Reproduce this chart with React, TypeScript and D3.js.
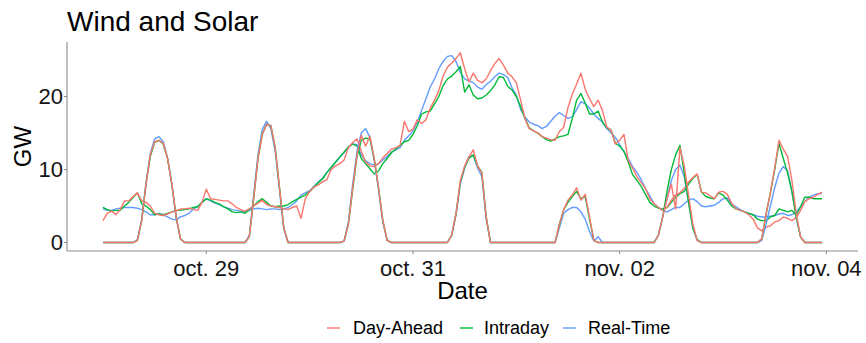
import React from "react";
import * as d3 from "d3";

const START_UTC = Date.UTC(2018, 9, 28, 0);
const seriesNames = ["Day-Ahead", "Intraday", "Real-Time"];
const seriesColors = ["#F8766D", "#00BA38", "#619CFF"];

const windDayAhead = [
  3.0,4.0,4.3,3.8,4.5,5.7,5.7,6.3,6.8,5.7,5.5,5.0,
  4.0,3.8,3.7,3.9,4.2,4.3,4.6,4.6,4.7,4.5,4.4,5.5,7.3,
  6.0,5.9,5.8,5.7,5.7,5.3,4.8,4.5,4.3,4.6,5.0,5.4,
  5.8,5.2,5.0,4.9,4.8,4.6,4.5,4.8,5.0,3.3,6.0,7.0,
  7.6,7.9,8.3,8.6,10.0,10.5,10.8,11.3,13.0,13.7,14.2,12.5,
  11.0,10.5,10.4,10.8,11.6,12.2,12.8,13.0,13.3,16.6,15.2,15.5,16.8,
  16.3,16.8,18.4,19.5,20.8,22.8,24.0,24.6,25.2,26.0,23.8,22.0,
  23.2,22.2,21.9,22.4,23.5,24.5,25.2,24.3,23.2,22.7,21.9,19.5,
  17.0,15.6,15.3,15.0,14.5,14.3,14.1,14.0,15.2,15.8,18.5,20.3,21.7,
  23.2,21.0,19.7,18.6,19.5,18.1,15.8,15.4,13.5,14.0,14.8,11.2,
  10.2,9.0,8.2,7.4,6.0,5.3,4.8,4.4,4.8,5.8,6.5,6.8,
  7.4,8.3,8.9,9.4,6.9,6.8,6.4,6.0,6.9,7.0,6.6,5.4,4.6,
  4.4,4.2,3.8,3.2,2.0,1.6,2.1,2.3,2.8,3.0,3.5,3.3,
  3.0,3.4,4.4,5.6,6.0,6.2,6.6,6.9,
];

const windIntraday = [
  4.8,4.5,4.3,4.4,4.4,5.0,5.5,6.2,6.8,5.3,5.0,4.5,
  3.8,3.9,3.8,4.0,4.2,4.4,4.4,4.5,4.6,4.8,4.9,5.5,6.0,
  5.8,5.5,5.3,4.9,4.6,4.2,4.1,4.2,4.0,4.5,5.0,5.6,
  6.0,5.5,5.0,4.9,5.0,5.0,5.2,5.6,5.9,6.2,6.5,7.0,
  7.6,8.2,8.7,9.6,10.3,11.0,11.7,12.4,13.1,13.5,13.2,11.5,
  10.8,10.1,9.4,9.8,10.8,11.5,12.3,12.8,13.3,13.8,14.0,14.8,16.0,
  17.6,17.9,18.0,19.0,20.0,21.5,22.4,22.8,23.4,24.1,20.6,21.6,
  20.2,19.7,19.8,20.2,20.8,21.6,22.7,22.6,21.4,20.9,20.0,18.6,
  17.0,15.7,15.3,15.0,14.5,14.1,13.9,14.2,14.5,14.6,14.8,17.0,19.5,
  20.4,19.1,17.6,17.6,18.0,16.5,15.7,15.4,13.6,13.2,12.5,11.0,
  9.3,8.5,7.7,6.6,5.5,5.0,4.7,4.6,4.8,5.5,6.2,6.7,
  7.0,8.0,8.8,9.3,6.9,6.3,6.1,6.0,6.8,6.5,5.8,5.0,4.6,
  4.4,4.2,4.0,3.8,3.2,3.0,3.0,3.5,3.7,4.6,4.4,4.2,
  4.4,3.7,4.9,6.2,6.2,6.0,6.0,6.0,
];

const windRealTime = [
  4.6,4.4,4.4,4.6,4.7,4.8,4.8,4.8,4.7,4.5,4.2,3.8,
  3.8,4.0,3.8,3.5,3.2,3.1,3.5,3.7,4.0,4.6,4.9,5.5,6.0,
  5.7,5.4,5.2,4.9,4.7,4.5,4.4,4.3,4.2,4.4,4.6,4.7,
  4.6,4.5,4.6,4.6,4.5,4.6,4.8,5.2,5.7,6.5,6.8,7.1,
  7.7,8.3,8.8,9.6,10.2,11.0,11.7,12.3,13.1,13.5,13.4,12.0,
  11.2,10.8,10.6,10.8,11.3,11.8,12.4,12.7,13.0,14.0,14.6,15.3,16.5,
  18.1,19.7,21.3,22.4,23.8,24.8,25.5,25.6,24.8,23.3,22.4,22.1,
  21.9,21.3,21.0,21.6,22.1,22.7,23.2,23.0,22.6,21.2,20.2,18.2,
  17.2,16.5,16.2,16.0,15.6,15.9,16.6,17.3,17.8,17.4,17.0,17.2,18.2,
  19.3,19.0,18.4,17.6,17.0,16.5,15.6,15.0,14.4,13.4,12.4,11.5,
  10.4,9.6,8.6,7.4,6.4,5.3,4.8,4.4,4.2,4.5,4.8,4.8,
  5.3,5.8,6.0,5.6,5.0,4.9,5.0,5.1,5.5,6.0,6.1,5.3,4.9,
  4.5,4.2,4.0,3.8,3.6,3.5,3.5,3.6,3.7,3.9,4.0,3.7,
  3.8,4.2,4.9,5.6,6.2,6.5,6.7,6.7,
];

const solarDayAhead = [
  0,0,0,0,0,0,0,0,0.3,3.0,8.0,12.0,
  13.8,14.0,13.6,11.5,8.0,3.5,0.5,0,0,0,0,0,0,
  0,0,0,0,0,0,0,0,0,0.8,6.0,11.5,
  14.8,16.2,16.0,13.0,7.5,2.0,0,0,0,0,0,0,
  0,0,0,0,0,0,0,0.2,2.5,7.5,12.0,14.7,
  13.2,14.6,11.5,7.5,3.0,0.3,0,0,0,0,0,0,0,
  0,0,0,0,0,0,0,1.0,4.0,8.5,10.5,11.7,
  12.7,10.5,9.5,3.5,0,0,0,0,0,0,0,0,
  0,0,0,0,0,0,0,0,2.5,4.5,5.8,6.5,7.5,
  5.8,6.6,3.5,0.3,0,0,0,0,0,0,0,0,
  0,0,0,0,0,0,1.0,3.5,6.0,8.0,4.6,13.0,
  10.5,6.5,2.5,0.3,0,0,0,0,0,0,0,0,0,
  0,0,0,0,0,0.5,3.9,6.8,10.2,14.0,12.8,11.8,
  8.5,4.0,0.8,0,0,0,0,0,
];

const solarIntraday = [
  0,0,0,0,0,0,0,0,0.3,3.0,8.0,11.8,
  13.7,14.0,13.5,11.5,8.0,3.5,0.5,0,0,0,0,0,0,
  0,0,0,0,0,0,0,0,0,0.8,6.0,11.5,
  14.8,16.2,16.0,13.0,7.5,2.0,0,0,0,0,0,0,
  0,0,0,0,0,0,0,0.2,2.5,7.3,11.8,14.0,
  14.3,14.2,11.5,7.5,3.0,0.3,0,0,0,0,0,0,0,
  0,0,0,0,0,0,0,1.0,4.0,8.3,10.3,11.5,
  12.0,10.5,9.6,3.5,0,0,0,0,0,0,0,0,
  0,0,0,0,0,0,0,0,2.5,4.5,5.5,6.3,7.0,
  6.0,6.3,3.2,0.3,0,0,0,0,0,0,0,0,
  0,0,0,0,0,0,1.0,3.5,7.0,10.0,12.0,13.3,
  9.5,5.5,2.0,0.4,0,0,0,0,0,0,0,0,0,
  0,0,0,0,0,0.5,3.9,6.8,10.0,13.6,11.5,9.5,
  7.0,3.5,0.8,0,0,0,0,0,
];

const solarRealTime = [
  0,0,0,0,0,0,0,0,0.4,3.2,8.2,12.2,
  14.2,14.5,13.8,11.6,8.0,3.4,0.5,0,0,0,0,0,0,
  0,0,0,0,0,0,0,0,0,1.0,6.5,12.0,
  15.5,16.6,15.6,12.5,7.2,1.8,0,0,0,0,0,0,
  0,0,0,0,0,0,0,0.2,2.8,8.0,12.5,15.0,
  15.6,14.4,11.2,7.2,2.8,0.3,0,0,0,0,0,0,0,
  0,0,0,0,0,0,0,1.0,3.8,8.0,10.2,11.8,
  11.9,10.2,9.0,3.2,0,0,0,0,0,0,0,0,
  0,0,0,0,0,0,0,0,2.0,4.0,4.5,4.8,4.8,
  4.2,3.2,1.5,0.2,0.8,0,0,0,0,0,0,0,
  0,0,0,0,0,0,1.0,3.5,6.0,8.5,10.0,10.6,
  9.0,5.5,2.0,0.3,0,0,0,0,0,0,0,0,0,
  0,0,0,0,0,0.3,2.5,5.0,7.5,9.5,10.4,9.8,
  7.0,3.5,0.8,0,0,0,0,0,
];

const tickDates = [
  Date.UTC(2018, 9, 29),
  Date.UTC(2018, 9, 31),
  Date.UTC(2018, 10, 2),
  Date.UTC(2018, 10, 4),
];
const tickLabels = ["oct. 29", "oct. 31", "nov. 02", "nov. 04"];
const yTicks = [0, 10, 20];

const W = 866;
const H = 343;
const FONT = "'Liberation Sans', Arial, Helvetica, sans-serif";

export default function App() {
  const times = windDayAhead.map((_, i) => new Date(START_UTC + i * 3600 * 1000));
  const t0 = +times[0];
  const t1 = +times[times.length - 1];
  const pad = (t1 - t0) * 0.05;

  const left = 67, right = 858, top = 42, bottom = 251;
  const x = d3.scaleUtc().domain([new Date(t0 - pad), new Date(t1 + pad)]).range([left, right]);
  const y = d3.scaleLinear().domain([-1.164, 27.466]).range([bottom, top]);

  const line = d3
    .line<number>()
    .x((_, i) => x(times[i]))
    .y((d) => y(d));

  const wind = [windDayAhead, windIntraday, windRealTime];
  const solar = [solarDayAhead, solarIntraday, solarRealTime];
  const drawOrder = [2, 1, 0];

  const axisColor = "#8a8a8a";
  const textColor = "#141414";

  const legendItems = [
    { lx: 327, tx: 353 },
    { lx: 460, tx: 484 },
    { lx: 563, tx: 588 },
  ];

  return (
    <svg
      width={W}
      height={H}
      style={{ position: "absolute", left: 0, top: 0, background: "#fff" }}
      fontFamily={FONT}
    >
      <rect x={0} y={0} width={W} height={H} fill="#fff" />
      <text x={67} y={31} fontSize={28} fill="#000">
        Wind and Solar
      </text>

      <g fill="none" strokeWidth={1.4} strokeLinejoin="round">
        {drawOrder.map((k) => (
          <path key={"w" + k} d={line(wind[k]) || ""} stroke={seriesColors[k]} />
        ))}
        {drawOrder.map((k) => (
          <path key={"s" + k} d={line(solar[k]) || ""} stroke={seriesColors[k]} />
        ))}
      </g>

      <line x1={left} x2={left} y1={top} y2={bottom} stroke={axisColor} strokeWidth={1.1} />
      <line x1={left} x2={right} y1={bottom} y2={bottom} stroke={axisColor} strokeWidth={1.1} />
      {yTicks.map((v) => (
        <g key={"y" + v}>
          <line x1={left - 3} x2={left} y1={y(v)} y2={y(v)} stroke={axisColor} strokeWidth={1} />
          <text x={left - 4} y={y(v)} dy="0.36em" textAnchor="end" fontSize={22} fill={textColor}>
            {v}
          </text>
        </g>
      ))}
      {tickDates.map((d, i) => (
        <g key={"x" + i}>
          <line x1={x(new Date(d))} x2={x(new Date(d))} y1={bottom} y2={bottom + 3} stroke={axisColor} strokeWidth={1} />
          <text x={x(new Date(d))} y={bottom + 25} textAnchor="middle" fontSize={22} fill={textColor}>
            {tickLabels[i]}
          </text>
        </g>
      ))}

      <text x={(left + right) / 2} y={299} textAnchor="middle" fontSize={24} fill="#000">
        Date
      </text>
      <text
        transform={`translate(31, ${(top + bottom) / 2}) rotate(-90)`}
        textAnchor="middle"
        fontSize={24}
        fill="#000"
      >
        GW
      </text>

      {legendItems.map((it, k) => (
        <g key={"l" + k}>
          <line x1={it.lx} x2={it.lx + 13} y1={328} y2={328} stroke={seriesColors[k]} strokeWidth={1.4} />
          <text x={it.tx} y={328} dy="0.35em" fontSize={18} fill="#000">
            {seriesNames[k]}
          </text>
        </g>
      ))}
    </svg>
  );
}
